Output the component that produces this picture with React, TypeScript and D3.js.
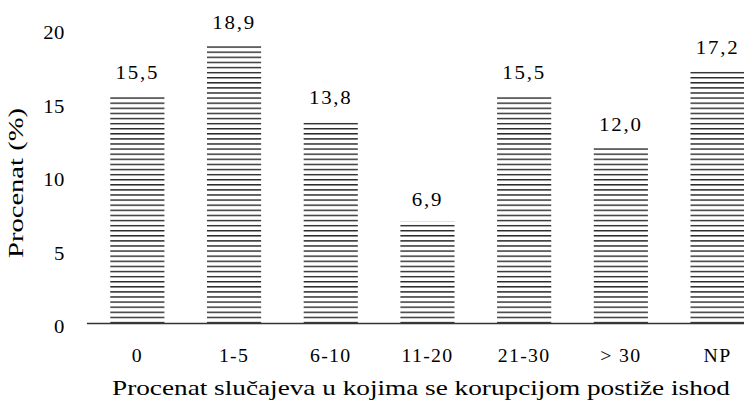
import React from 'react';
import * as d3 from 'd3';

const categories = ['0', '1-5', '6-10', '11-20', '21-30', '> 30', 'NP'];
const values = [15.5, 18.9, 13.8, 6.9, 15.5, 12.0, 17.2];
const yTicks = [0, 5, 10, 15, 20];

const W = 744;
const H = 401;
const FONT = "'Liberation Serif', serif";

export default function App() {
  const x = d3.scaleBand<string>()
    .domain(categories)
    .range([89, 89 + 7 * 96.7])
    .paddingInner(0.44)
    .paddingOuter(0.22);

  const y = d3.scaleLinear().domain([0, 20]).range([323, 29]);

  const fmt = (v: number) => v.toFixed(1).replace('.', ',');

  return (
    <svg width={W} height={H} style={{ position: 'absolute', left: 0, top: 0, background: '#fff', fontFamily: FONT }}>
      <defs>
        <pattern id="stripes" patternUnits="userSpaceOnUse" width={8} height={5.1} y={0.5}>
          <rect x={0} y={0} width={8} height={1.4} fill="#262626" />
        </pattern>
      </defs>
      <rect width={W} height={H} fill="#fff" />

      {/* bars */}
      {categories.map((c, i) => (
        <rect key={c} x={x(c)} y={y(values[i])} width={x.bandwidth()}
          height={y(0) - y(values[i])} fill="url(#stripes)" />
      ))}

      {/* baseline */}
      <line x1={87} x2={W} y1={y(0) + 0.5} y2={y(0) + 0.5} stroke="#333" strokeWidth={1.5} />

      {/* value labels */}
      {categories.map((c, i) => {
        const cx = (x(c) ?? 0) + x.bandwidth() / 2;
        return (
          <text key={c} transform={`translate(${cx},${y(values[i]) - 16}) scale(1.1,1)`}
            textAnchor="middle" fontSize={19} letterSpacing={1.6} fill="#000">{fmt(values[i])}</text>
        );
      })}

      {/* y tick labels */}
      {yTicks.map(t => (
        <text key={t} transform={`translate(65,${y(t) + 10}) scale(1.15,1)`}
          textAnchor="end" fontSize={18} letterSpacing={0.5} fill="#000">{t}</text>
      ))}

      {/* x tick labels */}
      {categories.map(c => {
        const cx = (x(c) ?? 0) + x.bandwidth() / 2;
        return (
          <text key={c} transform={`translate(${cx},362) scale(1.1,1)`}
            textAnchor="middle" fontSize={18} letterSpacing={1.2} fill="#000">{c}</text>
        );
      })}

      {/* axis titles */}
      <text x={421} y={395} textAnchor="middle" fontSize={22} fill="#000"
        textLength={618} lengthAdjust="spacingAndGlyphs">
        Procenat slučajeva u kojima se korupcijom postiže ishod
      </text>
      <text transform="translate(23,183) rotate(-90)" textAnchor="middle" fontSize={22} fill="#000"
        textLength={150} lengthAdjust="spacingAndGlyphs">
        Procenat (%)
      </text>
    </svg>
  );
}
